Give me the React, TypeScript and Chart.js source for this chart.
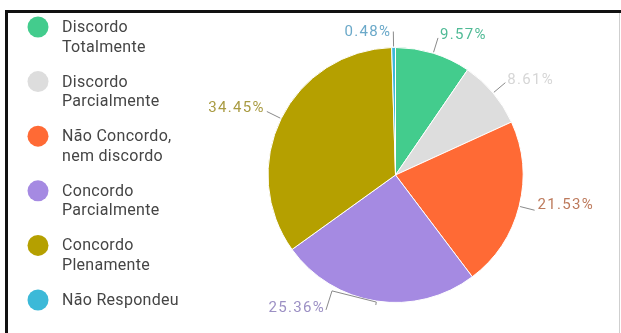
import React, { useEffect, useRef } from "react";
import { Chart, registerables } from "chart.js";

Chart.register(...registerables);

const categories: string[][] = [
  ["Discordo", "Totalmente"],
  ["Discordo", "Parcialmente"],
  ["Não Concordo,", "nem discordo"],
  ["Concordo", "Parcialmente"],
  ["Concordo", "Plenamente"],
  ["Não Respondeu"],
];
const counts: number[] = [20, 18, 45, 53, 72, 1];
const sliceColors: string[] = ["#43cc8d", "#dddddd", "#ff6a35", "#a58ae2", "#b5a000", "#3cb9d8"];
const labelColors: string[] = ["#4fba95", "#d6d6d6", "#bd7a5c", "#9c90c4", "#a99b42", "#6ba9c9"];
// label text offsets (style only): [dx, dy, useElbow]
const labelShift: [number, number, boolean][] = [
  [0, 0, false],
  [0, 0, false],
  [1, -2, false],
  [-47, -6, true],
  [0, 0, false],
  [0, 3, false],
];

const FONT = "Roboto, 'Noto Sans', sans-serif";

const framePlugin = {
  id: "framePlugin",
  beforeDraw(chart: any) {
    const ctx = chart.ctx;
    ctx.save();
    ctx.fillStyle = "#ffffff";
    ctx.fillRect(0, 0, chart.width, chart.height);
    ctx.restore();
  },
  afterDraw(chart: any) {
    const ctx = chart.ctx;
    ctx.save();
    ctx.strokeStyle = "#111";
    ctx.lineWidth = 3;
    ctx.beginPath();
    ctx.moveTo(5, 11.5);
    ctx.lineTo(chart.width, 11.5);
    ctx.moveTo(6.5, 10);
    ctx.lineTo(6.5, chart.height);
    ctx.stroke();
    ctx.strokeStyle = "#cfcfcf";
    ctx.lineWidth = 1;
    ctx.beginPath();
    ctx.moveTo(619.5, 13);
    ctx.lineTo(619.5, chart.height);
    ctx.stroke();
    ctx.restore();
  },
};

const legendPlugin = {
  id: "sideLegend",
  afterDraw(chart: any) {
    const ctx = chart.ctx;
    const labels = chart.data.labels as string[][];
    const colors = chart.data.datasets[0].backgroundColor as string[];
    ctx.save();
    ctx.font = `16px ${FONT}`;
    (ctx as any).letterSpacing = "0.3px";
    ctx.textBaseline = "middle";
    ctx.textAlign = "left";
    labels.forEach((lines, i) => {
      const cy = 27 + i * 54.6;
      ctx.fillStyle = colors[i];
      ctx.beginPath();
      ctx.arc(38, cy, 10.5, 0, Math.PI * 2);
      ctx.fill();
      ctx.fillStyle = "#454545";
      lines.forEach((ln, j) => {
        ctx.fillText(ln, 62, cy + 1 + j * 19.5);
      });
    });
    ctx.restore();
  },
};

const labelPlugin = {
  id: "outLabels",
  afterDatasetsDraw(chart: any) {
    const ctx = chart.ctx;
    const meta = chart.getDatasetMeta(0);
    const data = chart.data.datasets[0].data as number[];
    const total = data.reduce((a, b) => a + b, 0);
    ctx.save();
    ctx.font = `15px ${FONT}`;
    (ctx as any).letterSpacing = "1.3px";
    ctx.lineWidth = 1;
    meta.data.forEach((arc: any, i: number) => {
      const p = arc.getProps(["x", "y", "startAngle", "endAngle", "outerRadius"], true);
      const mid = (p.startAngle + p.endAngle) / 2;
      const c = Math.cos(mid);
      const s = Math.sin(mid);
      const r = p.outerRadius;
      const ex = p.x + c * (r + 1);
      const ey = p.y + s * (r + 1);
      const tx = p.x + c * (r + 16);
      const ty = p.y + s * (r + 16);
      const [dx, dy, elbow] = labelShift[i];
      const right = c >= 0;
      const ax = tx + dx + (right ? 2 : -2);
      const ay = ty + dy + 1;
      const text = ((data[i] / total) * 100).toFixed(2) + "%";
      ctx.strokeStyle = "#8a8a8a";
      ctx.beginPath();
      if (elbow) {
        ctx.moveTo(p.x + c * (r + 4), p.y + s * (r + 4));
        ctx.lineTo(p.x + c * (r + 1), p.y + s * (r + 1));
        ctx.lineTo(ax + 7, ay - 21);
        ctx.lineTo(ax + 1, ay - 2);
      } else {
        ctx.moveTo(ex, ey);
        ctx.lineTo(tx, ty);
      }
      ctx.stroke();
      ctx.fillStyle = labelColors[i];
      ctx.textAlign = right ? "left" : "right";
      ctx.textBaseline = "alphabetic";
      ctx.fillText(text, ax, ay);
    });
    ctx.restore();
  },
};

export default function App() {
  const ref = useRef<HTMLCanvasElement | null>(null);
  useEffect(() => {
    if (!ref.current) return;
    const chart = new Chart(ref.current, {
      type: "pie",
      data: {
        labels: categories,
        datasets: [
          {
            data: counts,
            backgroundColor: sliceColors,
            borderColor: "#ffffff",
            borderWidth: 1,
          },
        ],
      },
      options: {
        animation: false,
        responsive: false,
        devicePixelRatio: 1,
        layout: { padding: { left: 267, right: 97, top: 47, bottom: 30 } },
        plugins: {
          legend: { display: false },
          tooltip: { enabled: false },
        },
      },
      plugins: [framePlugin, legendPlugin, labelPlugin],
    });
    return () => chart.destroy();
  }, []);
  return (
    <div style={{ position: "absolute", left: 0, top: 0, width: 621, height: 333, background: "#fff" }}>
      <canvas ref={ref} width={621} height={333} style={{ display: "block" }} />
    </div>
  );
}
